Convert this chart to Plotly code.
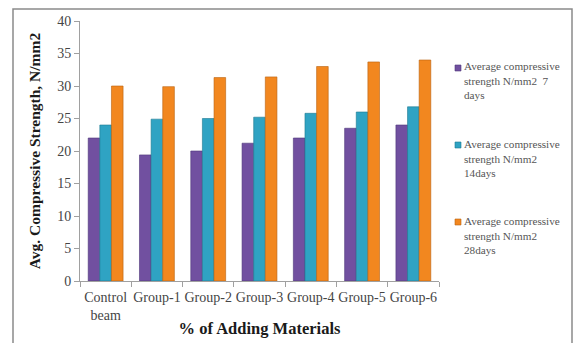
import plotly.graph_objects as go

categories = ["Control<br>beam", "Group-1", "Group-2", "Group-3", "Group-4", "Group-5", "Group-6"]
strength_7d = [22.0, 19.4, 20.0, 21.2, 22.0, 23.5, 24.0]
strength_14d = [24.0, 24.9, 25.0, 25.2, 25.8, 26.0, 26.8]
strength_28d = [30.0, 29.9, 31.3, 31.4, 33.0, 33.7, 34.0]

series_names = [
    "Average compressive<br>strength N/mm2  7<br>days",
    "Average compressive<br>strength N/mm2<br>14days",
    "Average compressive<br>strength N/mm2<br>28days",
]
series_values = [strength_7d, strength_14d, strength_28d]
fill_colors = ["#7150A0", "#2FA3C3", "#F2871F"]
edge_colors = ["#4E3578", "#1D7891", "#B8610F"]

serif = "Liberation Serif, Times New Roman, serif"

# plot-area geometry in pixels, used to place the hand-drawn legend
L, R, T, B = 80, 135, 21, 62
W, H = 574, 343
pw, ph = W - L - R, H - T - B


def px_x(px):
    return (px - L) / pw


def px_y(py):
    return (H - B - py) / ph


fig = go.Figure()
for i, (name, vals) in enumerate(zip(series_names, series_values)):
    fig.add_trace(go.Bar(
        x=categories, y=vals, name=name.replace("<br>", " "), showlegend=False,
        marker=dict(color=fill_colors[i], line=dict(color=edge_colors[i], width=0.6)),
    ))

# legend: small square swatch plus a three-line label per series
annotations = []
shapes = []
first_line_y = 68
item_step = 77
for i, name in enumerate(series_names):
    y0 = first_line_y + i * item_step
    shapes.append(dict(
        type="rect", xref="paper", yref="paper",
        x0=px_x(455), x1=px_x(461), y0=px_y(y0 + 3), y1=px_y(y0 - 3),
        fillcolor=fill_colors[i], line=dict(color=edge_colors[i], width=0.6),
    ))
    annotations.append(dict(
        text=name, xref="paper", yref="paper",
        x=px_x(462), y=px_y(y0 + 13), align="left",
        xanchor="left", yanchor="middle", showarrow=False,
        font=dict(family=serif, size=11.2, color="#555555"),
    ))

# outer chart frame
shapes.append(dict(
    type="rect", xref="paper", yref="paper",
    x0=px_x(13), x1=px_x(572), y0=px_y(347), y1=px_y(9),
    line=dict(color="#8A8A8A", width=1.5), fillcolor="rgba(0,0,0,0)",
    layer="below",
))

fig.update_layout(
    width=W, height=H,
    margin=dict(l=L, r=R, t=T, b=B),
    paper_bgcolor="white", plot_bgcolor="white",
    barmode="group", bargap=0.32, bargroupgap=0,
    font=dict(family=serif, color="#404040", size=14),
    showlegend=False,
    annotations=annotations,
    shapes=shapes,
)

fig.update_yaxes(
    range=[0, 40], dtick=5, showgrid=False, automargin=False,
    showline=True, linecolor="#A0A0A0", linewidth=1,
    ticks="outside", ticklen=5, tickcolor="#A0A0A0",
    tickfont=dict(family=serif, size=14, color="#454545"),
    title=dict(text="<b>Avg. Compressive Strength, N/mm2</b>",
               font=dict(family=serif, size=15.5, color="#1A1A1A"), standoff=12),
    zeroline=False,
)
fig.update_xaxes(
    showgrid=False, showline=True, linecolor="#A0A0A0", linewidth=1, automargin=False,
    ticks="outside", ticklen=5, tickcolor="#A0A0A0", tickson="boundaries",
    tickangle=0, ticklabelstandoff=3,
    tickfont=dict(family=serif, size=14, color="#454545"),
    title=dict(text="<b>% of Adding Materials</b>",
               font=dict(family=serif, size=16.5, color="#1A1A1A"), standoff=0),
)

fig.write_html("out.html")
